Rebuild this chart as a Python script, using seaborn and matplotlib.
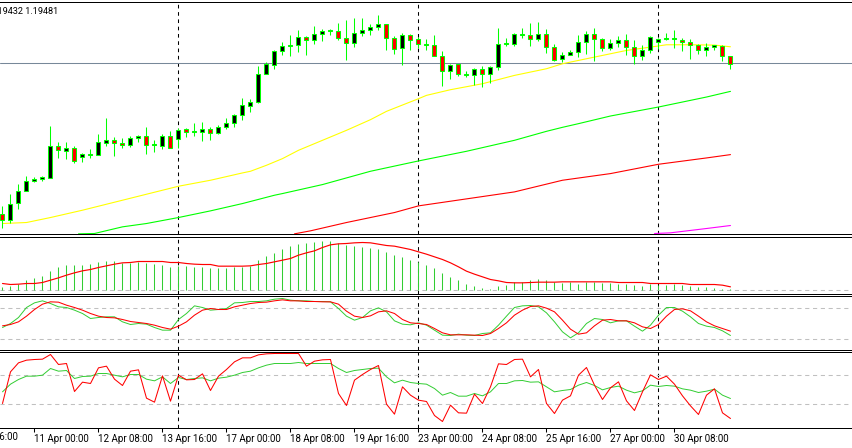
import numpy as np
import pandas as pd
import matplotlib
matplotlib.use('Agg')
import matplotlib.pyplot as plt
import seaborn as sns

# All values below are read off the chart, larger number = lower on screen
# Candles
wick_top = [618,580,552,526,529,526,378,425,426,438,458,445,400,354,410,414,408,405,381,420,400,392,382,384,369,366,380,373,354,340,294,295,198,186,148,126,
            105,90,108,78,87,87,67,60,54,54,72,45,72,108,98,100,110,116,105,153,190,190,212,204,196,196,82,112,98,84,67,64,87,132,154,
            150,105,91,84,112,117,108,102,120,135,108,112,97,90,114,117,132,129,133,133,166]
wick_bottom = [683,668,626,572,545,542,532,474,477,488,486,472,464,438,467,443,441,426,461,456,447,443,442,411,408,423,420,401,387,379,360,336,308,222,207,165,
               168,156,165,132,123,105,120,180,141,107,105,90,150,162,195,148,144,150,168,258,237,228,230,255,261,249,210,138,138,112,138,122,158,182,184,
               165,170,162,183,153,150,141,165,190,180,159,145,120,144,153,177,162,168,150,183,207]
body_top = [640,610,572,541,535,531,436,436,442,442,460,460,424,418,418,427,412,408,408,432,408,408,388,385,393,385,385,379,367,343,313,304,220,192,152,137,
            133,109,109,100,91,90,91,112,97,88,79,70,72,112,103,103,115,130,133,166,193,192,220,205,205,199,130,129,102,100,103,100,100,139,163,
            154,124,100,100,115,127,118,118,139,148,109,115,112,112,118,124,133,139,133,137,166]
body_bottom = [658,658,607,571,542,536,532,448,452,482,470,463,463,428,428,434,433,412,434,435,437,442,416,394,395,394,398,398,379,367,343,316,305,220,193,151,
               136,134,119,119,100,92,113,128,128,98,88,80,113,146,143,119,131,133,166,212,212,221,224,224,220,221,200,131,130,103,116,116,140,178,176,
               163,155,124,116,143,143,128,139,167,167,149,125,116,116,125,133,149,149,139,167,190]
body_red = [1,0,0,0,0,0,0,1,0,1,0,0,0,0,1,1,0,0,1,0,0,1,0,1,0,0,1,0,0,0,0,0,0,0,0,0,
            0,0,1,0,0,0,1,1,0,0,0,0,1,1,0,1,1,0,1,1,0,1,0,0,1,0,0,0,0,0,1,0,1,1,0,
            0,0,0,1,1,0,0,1,1,0,0,0,0,0,1,1,1,0,0,1,1]

# Moving averages, sampled at some candles
yellow_x = [0,3,6,10,14,18,22,26,30,31,33,35,37,40,43,46,48,52,53,56,60,64,68,70,71,73,75,78,81,83,86,89,91]
yellow_y = [670,667,652,630,606,582,558,540,518,513,495,475,450,420,390,358,333,295,285,268,250,225,205,190,185,175,165,150,140,133,133,134,139]
green_x = [9.5,11.5,15,18,22,26,30,34,35,40,46,52,58,64,68,70,72,76,82,88,91]
green_y = [701,700,680,670,652,632,610,585,580,553,513,482,453,420,393,381,370,347,320,290,273]
red_x = [36.5,38.5,43,49,52,58,64,70,76,82,88,91]
red_y = [701,692,667,637,617,596,575,540,520,492,473,463]
magenta_x = [81.5,83.5,88,91]
magenta_y = [700,698,685,676]

# MACD panel
hist_top = [170,168,160,150,143,138,123,111,105,105,103,100,96,93,92,97,97,95,97,102,105,110,107,108,110,110,113,113,113,110,110,108,90,78,67,55,
            48,41,38,36,33,33,38,44,48,50,54,57,65,74,81,90,95,105,114,128,140,150,162,168,174,175,168,164,156,155,150,147,150,155,158,
            156,162,155,155,158,158,160,162,165,167,160,163,163,160,165,166,170,170,172,176,177]
signal = [160,163,162,160,160,157,150,143,135,128,122,118,112,107,102,98,97,94,94,94,94,97,97,100,102,103,103,108,108,108,108,107,103,100,95,90,
          85,75,68,62,52,44,41,40,38,37,38,42,46,48,53,58,65,72,80,88,98,110,123,132,140,148,152,157,158,158,157,156,156,156,155,
          155,155,155,155,155,155,157,157,157,157,160,160,160,160,160,163,163,163,163,165,170]

# Stochastic panel
stoch_red = [287,283,275,258,238,222,215,216,225,232,240,250,258,262,263,268,274,277,280,285,292,297,288,275,255,240,235,238,238,230,225,220,217,216,212,209,
             212,212,214,214,215,215,222,243,258,262,257,245,242,250,268,278,280,283,295,308,314,314,314,315,316,310,295,278,255,240,229,227,234,245,270,
             297,312,308,287,270,268,272,272,278,290,295,283,258,238,236,242,258,275,287,295,303]
stoch_green = [292,280,262,232,218,212,220,230,232,240,250,265,262,260,260,275,283,280,282,292,300,300,268,250,227,232,240,238,235,218,217,214,214,212,207,205,
               210,212,212,214,214,215,235,258,270,262,242,233,245,272,282,284,278,285,300,315,316,312,315,316,310,308,285,258,232,227,226,230,248,275,305,
               323,308,280,265,268,278,272,272,288,303,285,255,232,232,243,260,280,288,292,302,316]

# RSI style panel
fast_red = [520,425,398,390,388,387,373,403,400,484,456,460,413,408,447,466,423,419,504,516,437,513,435,449,448,431,481,438,418,395,383,383,374,371,370,370,
            370,370,408,393,389,388,490,526,450,433,418,406,522,552,470,495,510,514,556,574,525,548,549,492,520,470,401,403,388,387,440,418,520,550,510,
            497,435,412,465,508,473,455,512,541,485,434,448,438,462,497,527,553,495,476,548,565]
slow_green = [485,462,448,438,438,435,415,423,421,445,439,438,430,430,435,440,433,433,447,452,440,460,442,448,445,443,452,444,441,435,427,423,413,405,400,400,
              400,397,400,400,400,400,415,427,421,418,415,414,440,458,450,457,460,462,475,495,487,498,498,490,497,485,460,460,452,451,456,455,470,485,481,
              478,465,457,466,479,472,468,480,488,482,465,469,466,468,476,480,487,483,477,495,505]

tick_pos = [4,12,20,28,36,44,52,60,68,76,84]
tick_labels = ['11 Apr 00:00','12 Apr 08:00','13 Apr 16:00','17 Apr 00:00','18 Apr 08:00','19 Apr 16:00',
               '23 Apr 00:00','24 Apr 08:00','25 Apr 16:00','27 Apr 00:00','30 Apr 08:00']
day_lines = [22,52,82]
bid_level = 189
candles = pd.DataFrame({'x': np.arange(len(wick_top)), 'top': wick_top, 'bottom': wick_bottom,
                        'body_top': body_top, 'body_bottom': body_bottom, 'red': body_red})

sns.set_style('white')
plt.rcParams['font.family'] = ['Roboto', 'DejaVu Sans']

W, H = 852, 448
fig = plt.figure(figsize=(W / 100, H / 100), dpi=100)


def panel(top_px, bottom_px, ylim):
    ax = fig.add_axes([0, 1 - bottom_px / H, 1, (bottom_px - top_px) / H])
    ax.set_xlim(-0.3125, 106.19)
    ax.set_ylim(*ylim)
    ax.set_yticks([])
    ax.set_xticks([])
    for side in ['left', 'right']:
        ax.spines[side].set_visible(False)
    for side in ['top', 'bottom']:
        ax.spines[side].set_linewidth(0.72)
        ax.spines[side].set_color('black')
    for d in day_lines:
        ax.axvline(d, color='black', lw=0.75, dashes=(3.5, 3.5), zorder=1)
    return ax


def draw_line(ax, x, y, color, lw=0.8, z=2):
    sns.lineplot(x=x, y=y, color=color, lw=lw, estimator=None, errorbar=None, ax=ax, zorder=z)
    ax.set_xlabel('')
    ax.set_ylabel('')


def level(ax, y):
    ax.axhline(y, color='#c0c0c0', lw=0.75, dashes=(4, 3.5), zorder=1)


# Price panel
ax1 = panel(2.5, 234.5, (703, 6))
ax1.axhline(bid_level, color='#778899', lw=0.75, zorder=1.5)
draw_line(ax1, yellow_x, yellow_y, '#ffff00', lw=0.8)
draw_line(ax1, green_x, green_y, '#00ff00', lw=0.8)
draw_line(ax1, red_x, red_y, '#ff0000', lw=0.8)
draw_line(ax1, magenta_x, magenta_y, '#ff00ff', lw=0.8)
ax1.vlines(candles['x'], candles['top'], candles['bottom'], color='#00ff00', lw=0.75, zorder=3)
ax1.bar(candles['x'], candles['body_bottom'] - candles['body_top'], bottom=candles['body_top'], width=0.5,
        color=['#ff0000' if r else '#000000' for r in body_red], edgecolor='#00ff00', linewidth=0.75, zorder=4)
ax1.text(6.96, 1 - 8.8 / 232, '1.19432 1.19481', transform=ax1.get_xaxis_transform(), ha='right', va='center',
         fontsize=6.6, color='black')

# MACD panel
ax2 = panel(236.5, 293.5, (190, 19))
level(ax2, 178)
ax2.vlines(candles['x'], hist_top, 178, color='#32cd32', lw=0.75, zorder=2)
draw_line(ax2, candles['x'], signal, '#ff0000', lw=0.85, z=3)

# Stochastic panel
ax3 = panel(295.5, 349.5, (358, 196))
level(ax3, 232)
level(ax3, 325)
draw_line(ax3, candles['x'], stoch_green, '#32cd32', lw=0.7)
draw_line(ax3, candles['x'], stoch_red, '#ff0000', lw=0.75, z=3)

# Fast panel with the time axis
ax4 = panel(351.5, 427.5, (592, 364))
level(ax4, 436)
level(ax4, 523)
draw_line(ax4, candles['x'], slow_green, '#32cd32', lw=0.7)
draw_line(ax4, candles['x'], fast_red, '#ff0000', lw=0.75, z=3)
ax4.set_xticks(tick_pos)
ax4.set_xticklabels(tick_labels, ha='left', fontsize=7, color='black')
ax4.tick_params(axis='x', bottom=True, length=3, width=0.75, color='black', pad=2)
ax4.text(1.96, -0.125, '10 Apr 16:00', transform=ax4.get_xaxis_transform(), ha='right', va='center',
         fontsize=7, color='black')

fig.savefig('out.png', dpi=100, facecolor='white')
